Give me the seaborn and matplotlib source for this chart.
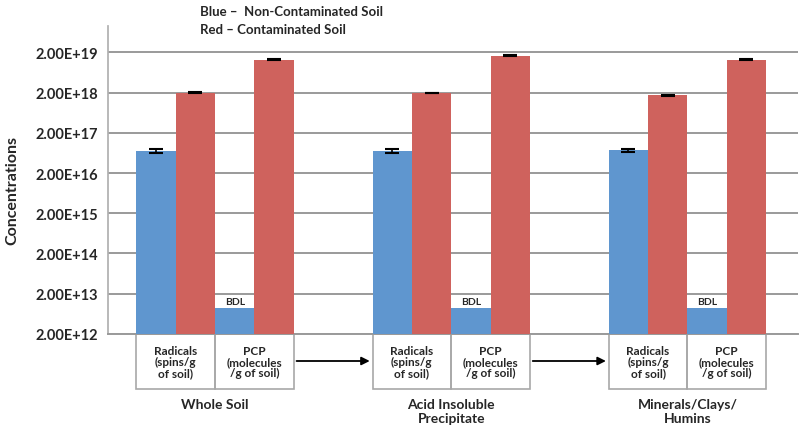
import pandas as pd
import seaborn as sns
import matplotlib
matplotlib.use("Agg")
import matplotlib.pyplot as plt
import matplotlib.transforms as mtransforms

# data
groups = ["Whole Soil", "Acid Insoluble\nPrecipitate", "Minerals/Clays/\nHumins"]
measures = ["Radicals\n(spins/g\nof soil)", "PCP\n(molecules\n/g of soil)"]
non_contaminated = [7.0e16, 9.0e12, 7.0e16, 9.0e12, 7.3e16, 9.0e12]
contaminated = [2.0e18, 1.3e19, 1.95e18, 1.65e19, 1.7e18, 1.3e19]
err_non = [7e15, 0, 7e15, 0, 7e15, 0]
err_con = [2e16, 4e17, 3e16, 3e17, 3e16, 3e17]
bdl = [False, True, False, True, False, True]
ytick_vals = [2e12, 2e13, 2e14, 2e15, 2e16, 2e17, 2e18, 2e19]

BLUE = "#5f96cf"
RED = "#cf625d"

rows = []
for gi, g in enumerate(groups):
    for mi, m in enumerate(measures):
        k = gi * len(measures) + mi
        pos = gi * 3 + mi
        rows.append({"pos": pos, "soil": "Non-Contaminated", "value": non_contaminated[k], "err": err_non[k]})
        rows.append({"pos": pos, "soil": "Contaminated", "value": contaminated[k], "err": err_con[k]})
df = pd.DataFrame(rows)

sns.set_theme(style="white")
plt.rcParams["font.family"] = ["Lato", "DejaVu Sans"]

fig = plt.figure(figsize=(8, 4.39), dpi=100)
ax = fig.add_axes([0.135, 0.237, 0.862, 0.701])
ax.set_yscale("log")

sns.barplot(data=df, x="pos", y="value", hue="soil", native_scale=True,
            width=1.0, dodge=True, palette={"Non-Contaminated": BLUE, "Contaminated": RED},
            hue_order=["Non-Contaminated", "Contaminated"], errorbar=None,
            saturation=1, linewidth=0, ax=ax, legend=False, zorder=3)

for soil, shift in [("Non-Contaminated", -0.25), ("Contaminated", 0.25)]:
    sub = df[(df.soil == soil) & (df.err > 0)]
    ax.errorbar(sub.pos + shift, sub.value, yerr=sub.err, fmt="none", ecolor="black",
                elinewidth=1.2, capsize=5, capthick=1.5, zorder=4)

positions = sorted(df.pos.unique())
for p, flag in zip(positions, bdl):
    if flag:
        v = df[(df.pos == p) & (df.soil == "Non-Contaminated")].value.iloc[0]
        ax.text(p - 0.25, v * 1.12, "BDL", ha="center", va="bottom", fontsize=7.5, fontweight="bold")

ax.set_ylim(2e12, 8.9e19)
ax.set_xlim(-0.86, 7.9)
ax.set_yticks(ytick_vals)
ax.set_yticklabels([f"{v:.2E}" for v in ytick_vals], fontsize=10.5, fontweight="bold")
ax.minorticks_off()
ax.tick_params(axis="y", length=0, pad=7)
ax.set_xticks([])
ax.set_xlabel("")
ax.set_ylabel("Concentrations", fontsize=11.5, fontweight="bold")
ax.yaxis.set_label_coords(-0.128, 0.47)
ax.grid(axis="y", color="#9a9a9a", linewidth=1.4, zorder=0)
ax.set_axisbelow(True)
for s in ["top", "right"]:
    ax.spines[s].set_visible(False)
ax.spines["left"].set_color("#b0b0b0")
ax.spines["bottom"].set_color("#9a9a9a")
ax.spines["bottom"].set_linewidth(1.4)

# category boxes below the axis
trans = mtransforms.blended_transform_factory(ax.transData, fig.transFigure)
box_top, box_bot = 1 - 335 / 439, 1 - 390 / 439
for gi, g in enumerate(groups):
    for mi, m in enumerate(measures):
        p = gi * 3 + mi
        ax.add_patch(plt.Rectangle((p - 0.5, box_bot), 1.0, box_top - box_bot, transform=trans,
                                   fill=False, edgecolor="#a8a8a8", linewidth=1.2, clip_on=False))
        ax.text(p, (box_top + box_bot) / 2, m, transform=trans, ha="center", va="center",
                fontsize=8.5, fontweight="bold", linespacing=1.05)
    ax.text(gi * 3 + 0.5, 1 - 399 / 439, g, transform=trans, ha="center", va="top",
            fontsize=10, fontweight="bold", linespacing=1.2)
    if gi < len(groups) - 1:
        ax.annotate("", xy=(gi * 3 + 2.5, 1 - 362 / 439), xytext=(gi * 3 + 1.5, 1 - 362 / 439),
                    xycoords=trans, textcoords=trans,
                    arrowprops=dict(arrowstyle="-|>", color="black", lw=1.3, mutation_scale=12))

fig.text(200 / 800, 1 - 12 / 439, "Blue \u2013  Non-Contaminated Soil", ha="left", va="center",
         fontsize=9.5, fontweight="bold")
fig.text(200 / 800, 1 - 30 / 439, "Red \u2013 Contaminated Soil", ha="left", va="center",
         fontsize=9.5, fontweight="bold")

fig.savefig("out.png", dpi=100)
